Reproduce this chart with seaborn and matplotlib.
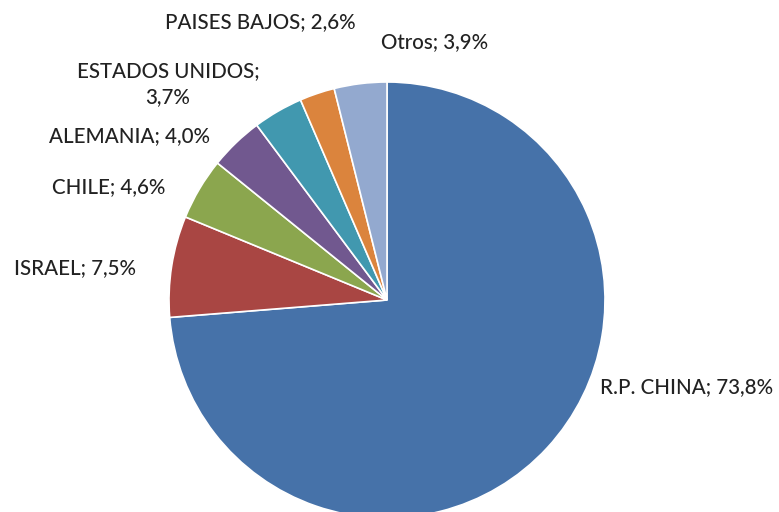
import matplotlib
matplotlib.use("Agg")
import matplotlib.pyplot as plt
import seaborn as sns

sns.set_theme(style="white")
plt.rcParams['font.family'] = ['Lato', 'DejaVu Sans']

# datos: participación por país (%)
paises = ["R.P. CHINA", "ISRAEL", "CHILE", "ALEMANIA", "ESTADOS UNIDOS", "PAISES BAJOS", "Otros"]
valores = [73.8, 7.5, 4.6, 4.0, 3.7, 2.6, 3.9]
colores = ["#4672A9", "#A94643", "#8BA64E", "#71588F", "#4198AF", "#DB843D", "#93A9CF"]

# posiciones de las etiquetas (pixeles, y hacia arriba)
pos_etiquetas = [(687, 125), (75, 244), (109, 325), (130, 376), (168, 428), (260, 490), (435, 470)]

fig = plt.figure(figsize=(7.79, 5.12), dpi=100)
ax = fig.add_axes([0, 0, 1, 1])
ax.pie(valores, colors=colores, startangle=90, counterclock=False,
       center=(387, 212), radius=218, frame=True,
       wedgeprops=dict(edgecolor="white", linewidth=1.2))
ax.set_xlim(0, 779)
ax.set_ylim(0, 512)
ax.set_aspect("equal")
ax.axis("off")

for nombre, v, (x, y) in zip(paises, valores, pos_etiquetas):
    num = f"{v:.1f}".replace(".", ",")
    if nombre == "ESTADOS UNIDOS":
        txt = f"{nombre};\n{num}%"
    else:
        txt = f"{nombre}; {num}%"
    ax.text(x, y, txt, ha="center", va="center", fontsize=14.8,
            color="#222222", fontweight="medium", linespacing=1.35)

fig.savefig("out.png", dpi=100)
